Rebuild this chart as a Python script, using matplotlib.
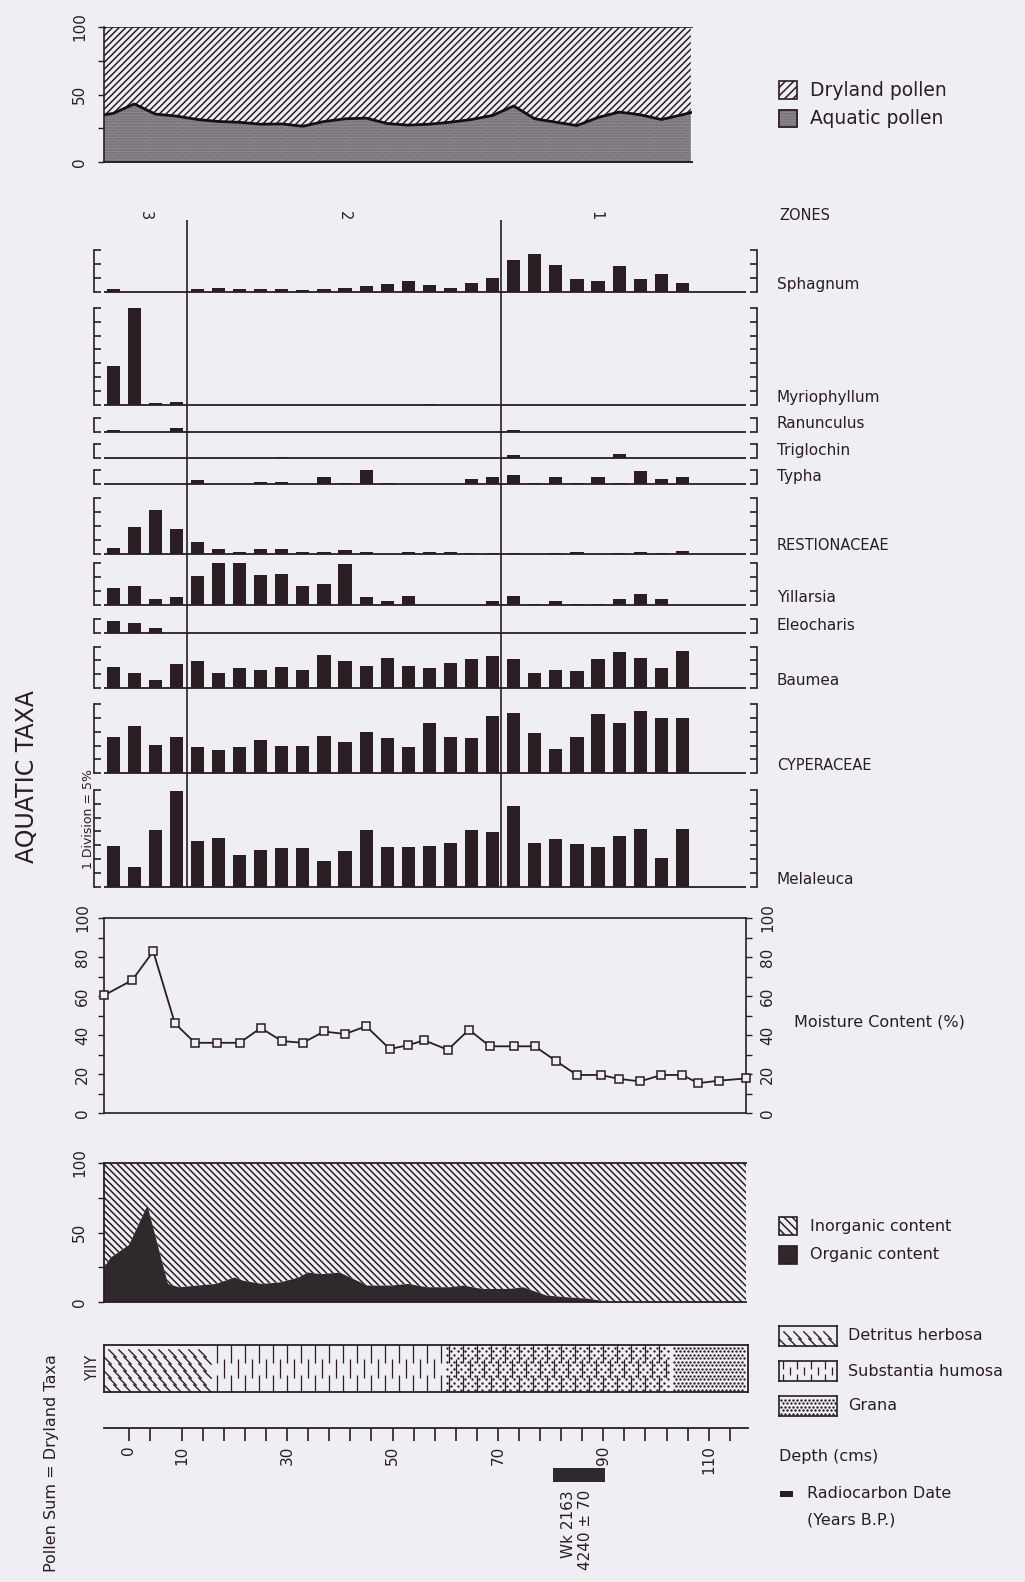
import numpy as np
import matplotlib.pyplot as plt
from matplotlib.patches import Rectangle
from matplotlib.path import Path

INK = "#2a1d23"
BG = "#efeef2"
GREY = "#8e8a8f"
DARK = "#2f282c"

plt.rcParams["font.family"] = "DejaVu Sans"
plt.rcParams["hatch.linewidth"] = 1.1
plt.rcParams["text.color"] = INK
plt.rcParams["axes.edgecolor"] = INK
plt.rcParams["xtick.color"] = INK
plt.rcParams["ytick.color"] = INK

# ---------------- data ----------------
# pollen samples (depth, cm)
sample_depth = [-3, 1, 5, 9, 13, 17, 21, 25, 29, 33, 37, 41, 45, 49,
                53, 57, 61, 65, 69, 73, 77, 81, 85, 89, 93, 97, 101, 105]

taxa = ["Sphagnum", "Myriophyllum", "Ranunculus", "Triglochin", "Typha",
        "RESTIONACEAE", "Yillarsia", "Eleocharis", "Baumea", "CYPERACEAE",
        "Melaleuca"]
divisions = [3, 7, 1, 1, 1, 4, 3, 1, 3, 5, 7]

sphagnum = [1.2, 0, 0, 0, 1.0, 1.5, 1.2, 1.2, 1.2, 0.8, 1.2, 1.5, 2.2, 2.7,
            4.0, 2.5, 1.5, 3.2, 5.2, 11.6, 13.8, 9.8, 4.7, 4.0, 9.4, 4.7, 6.5, 3.3]
myriophyllum = [14, 35, 0.6, 1.0, 0, 0, 0, 0, 0, 0, 0, 0, 0, 0,
                0, 0.5, 0, 0, 0, 0, 0, 0, 0, 0, 0, 0, 0, 0]
ranunculus = [0.6, 0, 0, 1.2, 0, 0, 0, 0, 0, 0, 0, 0, 0, 0,
              0, 0, 0, 0, 0, 0.6, 0, 0, 0, 0, 0, 0, 0, 0]
triglochin = [0, 0, 0, 0, 0, 0, 0, 0, 0.3, 0, 0, 0, 0, 0,
              0, 0, 0, 0, 0, 0.9, 0, 0, 0, 0, 1.5, 0, 0, 0]
typha = [0, 0, 0, 0, 1.2, 0, 0, 0.4, 0.4, 0, 2.5, 0.3, 5.0, 0.3,
         0, 0, 0, 1.7, 2.2, 3.2, 0.3, 2.2, 0.3, 2.2, 0.3, 4.4, 1.7, 2.2]
restionaceae = [2.0, 9.7, 15.5, 8.9, 4.0, 1.7, 0.5, 1.5, 1.5, 0.5, 0.5, 1.4, 0.7, 0,
                0.5, 0.6, 0.6, 0.3, 0.3, 0.3, 0, 0.3, 0.5, 0, 0.3, 0.5, 0.3, 0.8]
villarsia = [6.1, 6.9, 2.1, 2.7, 10.3, 15.0, 15.0, 10.7, 11.3, 7.0, 7.7, 14.6, 2.7, 1.5,
             3.3, 0, 0, 0, 1.3, 3.3, 0.3, 1.3, 0.3, 0.3, 2.0, 4.0, 2.1, 0]
eleocharis = [4.6, 3.7, 1.9, 0, 0, 0, 0, 0, 0, 0, 0, 0, 0, 0.2,
              0, 0, 0, 0, 0, 0, 0, 0, 0, 0, 0, 0, 0, 0]
baumea = [7.6, 5.6, 3.1, 8.7, 9.8, 5.6, 7.3, 6.7, 7.8, 6.6, 12.1, 9.7, 8.1, 11.0,
          8.1, 7.3, 9.1, 10.5, 11.5, 10.5, 5.5, 6.7, 6.2, 10.5, 12.9, 10.8, 7.3, 13.4]
cyperaceae = [13.2, 17.0, 10.3, 13.2, 9.5, 8.4, 9.5, 11.8, 9.9, 9.9, 13.5, 11.2, 14.7, 12.8,
              9.3, 18.1, 13.2, 12.6, 20.6, 21.8, 14.4, 8.9, 13.2, 21.2, 18.1, 22.4, 19.8, 19.8]
melaleuca = [14.9, 7.2, 20.5, 34.4, 16.7, 17.8, 11.5, 13.3, 13.9, 13.9, 9.3, 13.0, 20.5, 14.3,
             14.3, 14.9, 16.0, 20.5, 19.9, 29.3, 16.0, 17.1, 15.3, 14.5, 18.5, 20.9, 10.6, 20.9]
taxa_values = [sphagnum, myriophyllum, ranunculus, triglochin, typha, restionaceae,
               villarsia, eleocharis, baumea, cyperaceae, melaleuca]

# aquatic pollen as % of total (dryland fills the rest)
pollen_depth = [-4.7] + sample_depth + [106.6]
aquatic = [35, 36, 43, 35.5, 34, 31.5, 30, 29.4, 28, 28.2, 26.5, 30, 32, 32.5, 28.5,
           27.3, 28, 29.5, 31.5, 34.5, 41.5, 32, 29.5, 27, 33, 37, 35, 31.5, 35, 36.6]

moist_depth = [-4.7, 0.6, 4.6, 8.7, 12.5, 16.7, 21, 25, 29, 33, 37, 41, 45, 49.5, 53, 56,
               60.5, 64.5, 68.5, 73, 77, 81, 85, 89.5, 93, 97, 101, 105, 108, 112, 117]
moisture = [60.4, 68.1, 82.9, 46, 36, 36, 36, 43.6, 36.9, 36, 41.8, 40.5, 44.5, 32.8, 34.8,
            37.3, 32.4, 42.7, 34.2, 34.2, 34.2, 26.7, 19.5, 19.5, 17.5, 16.2, 19.5, 19.5,
            15.3, 16.6, 17.7]

org_depth = [-4.74, -3.5, 0, 3.5, 5.6, 7.4, 9.5, 13, 16.5, 20, 21.7, 25.2, 28.7, 32.2, 33.9,
             36.5, 40, 42.6, 45.2, 49.6, 53, 56.5, 60.9, 63.5, 67, 72.2, 74.8, 79.2, 82.7,
             87, 91.4, 117.08]
organic = [24.7, 31.8, 41, 69.4, 38.8, 13, 10.6, 11.8, 13, 17.6, 15.3, 13, 14.1, 17.6, 21.2,
           20, 21.2, 16.5, 11.8, 11.8, 13, 10.6, 10.6, 11.8, 9.4, 9.4, 10.6, 4.7, 3.5, 2.4, 0, 0]

strat_bounds = [-4.74, 16, 60, 103, 117.08]
strat_units = ["detritus", "humosa", "humosa+grana", "grana"]

zone_bounds = [-4.74, 11.0, 70.6, 106.6]
zone_names = ["3", "2", "1"]

depth_ticks = [0, 10, 30, 50, 70, 90, 110]
c14_range = (80.5, 90.3)
c14_lab = "Wk 2163"
c14_age = "4240 ± 70"

# ---------------- layout helpers ----------------
W, H = 1025, 1582
PX0, PXCM = 129.0, 5.27     # pixel of depth 0, pixels per cm
DIV_PX = 13.9               # height of one 5 % division

fig = plt.figure(figsize=(W / 100, H / 100), dpi=100, facecolor=BG)


def depth_px(d):
    return PX0 + PXCM * d


def add_ax(x0, x1, y0, y1):
    ax = fig.add_axes([x0 / W, 1 - y1 / H, (x1 - x0) / W, (y1 - y0) / H])
    ax.set_facecolor("none")
    ax.set_xlim((x0 - PX0) / PXCM, (x1 - PX0) / PXCM)
    return ax


def rot_labels(ax):
    for t in ax.yaxis.get_major_ticks():
        t.label1.set_va("center")
        t.label2.set_va("center")


BACKSLASH = Path([(-1, 1), (1, -1)], [Path.MOVETO, Path.LINETO])


def texture(ax, kind, x0, x1, h_px):
    kx, ky = 1 / PXCM, 1 / h_px
    if "detritus" in kind:
        for i, y in enumerate(np.arange(4, h_px - 2, 7)):
            xs = np.arange(x0 + (3 + 5 * (i % 2)) * kx, x1 - 2 * kx, 10 * kx)
            ax.plot(xs, np.full_like(xs, y * ky), ls="none", marker=BACKSLASH,
                    ms=6, mew=1.0, mfc="none", color=INK)
    if "humosa" in kind:
        xs = np.arange(x0 + 4 * kx, x1 - 2 * kx, 7 * kx)
        ax.vlines(xs[::2], 0.62, 1.0, color=INK, lw=0.9)
        ax.vlines(xs[::2], 0.0, 0.36, color=INK, lw=0.9)
        ax.vlines(xs[1::2], 0.3, 0.7, color=INK, lw=0.9)
    if "grana" in kind:
        step = 4.0 if kind == "grana" else 7.0
        for i, y in enumerate(np.arange(2.5, h_px - 1, 3.5)):
            xs = np.arange(x0 + (2 + step / 2 * (i % 2)) * kx, x1 - kx, step * kx)
            ax.plot(xs, np.full_like(xs, y * ky), ls="none", marker="o",
                    ms=1.7, mew=0, color=INK)


# ---------------- top: dryland / aquatic pollen ----------------
ax = add_ax(104, 692, 27, 162)
ax.set_ylim(0, 100)
ax.fill_between(pollen_depth, 0, aquatic, facecolor=GREY, edgecolor="#6c676b",
                hatch="......", lw=0)
ax.fill_between(pollen_depth, aquatic, 100, facecolor="none", edgecolor=INK,
                hatch="/////", lw=0)
ax.plot(pollen_depth, aquatic, color="#111", lw=2)
ax.spines["right"].set_visible(False)
ax.spines["top"].set_linewidth(0.6)
ax.spines["left"].set_linewidth(1.2)
ax.spines["bottom"].set_linewidth(1.4)
ax.set_xticks([])
ax.set_yticks([0, 50, 100])
ax.set_yticks([25, 75], minor=True)
ax.tick_params(axis="y", which="both", direction="out", length=4, width=1,
               labelrotation=90, labelsize=11, pad=8)
rot_labels(ax)

# ---------------- taxa rows ----------------
row_base_px = [292, 405, 431.5, 458, 483.5, 553.5, 605, 633.3, 688.3, 773.3, 887]
main_lim = ((104 - PX0) / PXCM, (746 - PX0) / PXCM)
for name, vals, ndiv, base in zip(taxa, taxa_values, divisions, row_base_px):
    ax = add_ax(94, 757, base - ndiv * DIV_PX, base)
    ax.set_ylim(0, ndiv * 5)
    ax.bar(sample_depth, vals, width=2.5, color=INK)
    ax.hlines(0, *main_lim, color=INK, lw=1.3, clip_on=False)
    for s in ["top", "bottom"]:
        ax.spines[s].set_visible(False)
    for s in ["left", "right"]:
        ax.spines[s].set_linewidth(1.2)
    ax.set_xticks([])
    ax.set_yticks(np.arange(0, ndiv * 5 + 0.1, 5))
    ax.tick_params(axis="y", direction="in", length=5, width=1.2, left=True,
                   right=True, labelleft=False)
    size = 10.5 if name.isupper() else 11
    fig.text(777 / W, 1 - (base - 3) / H, name, fontsize=size, va="baseline")

# zone boundaries
zax = add_ax(104, 746, 220, 887)
zax.axis("off")
for b in zone_bounds[1:-1]:
    zax.axvline(b, color=INK, lw=1.2)
for lo, hi, name in zip(zone_bounds[:-1], zone_bounds[1:], zone_names):
    zax.text((lo + hi) / 2, 1 + 4 / 667, name, transform=zax.get_xaxis_transform(),
             rotation=-90, ha="center", va="center", fontsize=10.5)

# ---------------- moisture ----------------
ax = add_ax(104, 746, 918, 1113)
ax.set_ylim(0, 100)
ax.plot(moist_depth, moisture, color=INK, lw=1.3, marker="s", ms=5.5, mfc=BG,
        mec=INK, mew=1.1, clip_on=False, zorder=3)
for s in ax.spines.values():
    s.set_linewidth(1.2)
ax.set_xticks([])
ax.set_yticks(range(0, 101, 20))
ax.set_yticks(range(10, 100, 20), minor=True)
ax.tick_params(axis="y", which="both", direction="out", length=4, width=1,
               left=True, right=True, labelleft=True, labelright=True,
               labelrotation=90, labelsize=11, pad=6)
rot_labels(ax)

# ---------------- organic / inorganic ----------------
ax = add_ax(104, 746, 1163, 1302)
ax.set_ylim(0, 100)
ax.fill_between(org_depth, 0, organic, facecolor=DARK, lw=0)
ax.fill_between(org_depth, organic, 100, facecolor="none", edgecolor=INK,
                hatch="\\\\\\\\\\", lw=0)
ax.spines["right"].set_visible(False)
for s in ["left", "top", "bottom"]:
    ax.spines[s].set_linewidth(1.3)
ax.set_xticks([])
ax.set_yticks([0, 50, 100])
ax.set_yticks([25, 75], minor=True)
ax.tick_params(axis="y", which="both", direction="out", length=4, width=1,
               labelrotation=90, labelsize=11, pad=8)
rot_labels(ax)

# ---------------- stratigraphy column ----------------
ax = add_ax(104, 748, 1345, 1392)
ax.set_ylim(0, 1)
for lo, hi, unit in zip(strat_bounds[:-1], strat_bounds[1:], strat_units):
    texture(ax, unit, lo, hi, 47)
for s in ax.spines.values():
    s.set_linewidth(1.3)
ax.set_xticks([])
ax.set_yticks([])

# ---------------- depth axis ----------------
ax = add_ax(104, 748, 1427, 1427.5)
for s in ["left", "right", "top"]:
    ax.spines[s].set_visible(False)
ax.spines["bottom"].set_linewidth(1.3)
ax.set_yticks([])
ax.set_xticks(depth_ticks)
ax.set_xticklabels([str(d) for d in depth_ticks])
ax.set_xticks([4] + list(range(14, 117, 4)), minor=True)
ax.tick_params(axis="x", which="both", direction="out", length=9, width=1.2,
               labelrotation=90, labelsize=11, pad=4)

# ---------------- free text and legends (pixel coordinates) ----------------
pix = fig.add_axes([0, 0, 1, 1])
pix.set_xlim(0, W)
pix.set_ylim(H, 0)
pix.axis("off")

# radiocarbon date below the depth scale
c0, c1 = depth_px(c14_range[0]), depth_px(c14_range[1])
pix.add_patch(Rectangle((c0, 1468), c1 - c0, 14, facecolor=DARK, lw=0))
pix.text(c0 + 15, 1490, c14_lab, rotation=90, ha="center", va="top", fontsize=11)
pix.text(c0 + 32, 1490, c14_age, rotation=90, ha="center", va="top", fontsize=11)

pix.add_patch(Rectangle((779, 81), 18, 18, facecolor=BG, edgecolor=INK, hatch="////", lw=1.2))
pix.add_patch(Rectangle((779, 110), 18, 17, facecolor=GREY, edgecolor="#6c676b",
                        hatch="......", lw=1.2))
pix.add_patch(Rectangle((779, 110), 18, 17, facecolor="none", edgecolor=INK, lw=1.2))
pix.text(810, 90, "Dryland pollen", fontsize=13.5, va="center")
pix.text(810, 119, "Aquatic pollen", fontsize=13.5, va="center")

pix.text(779, 216, "ZONES", fontsize=10.5, va="center")
pix.text(27, 777, "AQUATIC TAXA", fontsize=17, rotation=90, ha="center", va="center")
pix.text(88, 819, "1 Division = 5%", fontsize=9, rotation=90, ha="center", va="center")
pix.text(794, 1022, "Moisture Content (%)", fontsize=11.5, va="center")

pix.add_patch(Rectangle((779, 1217), 18, 18, facecolor=BG, edgecolor=INK,
                        hatch="\\\\\\\\", lw=1.2))
pix.add_patch(Rectangle((779, 1246), 18, 18, facecolor=DARK, edgecolor=INK, lw=1.2))
pix.text(810, 1226, "Inorganic content", fontsize=11.5, va="center")
pix.text(810, 1255, "Organic content", fontsize=11.5, va="center")

for y0, unit, label in [(1326, "detritus", "Detritus herbosa"),
                        (1361, "humosa", "Substantia humosa"),
                        (1396, "grana", "Grana")]:
    sw = add_ax(779, 837, y0, y0 + 20)
    sw.set_ylim(0, 1)
    lo, hi = sw.get_xlim()
    texture(sw, unit, lo, hi, 20)
    sw.set_xticks([])
    sw.set_yticks([])
    for s in sw.spines.values():
        s.set_linewidth(1.2)
    pix.text(848, y0 + 10, label, fontsize=11.5, va="center")

pix.text(93, 1368, "YIIY", rotation=90, ha="center", va="center", fontsize=10.5)
pix.text(779, 1457, "Depth (cms)", fontsize=11.5, va="center")
pix.add_patch(Rectangle((780, 1491), 13, 6, facecolor=INK, lw=0))
pix.text(807, 1494, "Radiocarbon Date", fontsize=11.5, va="center")
pix.text(807, 1520, "(Years B.P.)", fontsize=11.5, va="center")
pix.text(52, 1463, "Pollen Sum = Dryland Taxa", fontsize=11.5, rotation=90,
         ha="center", va="center")

fig.savefig("out.png", dpi=100, facecolor=BG)
